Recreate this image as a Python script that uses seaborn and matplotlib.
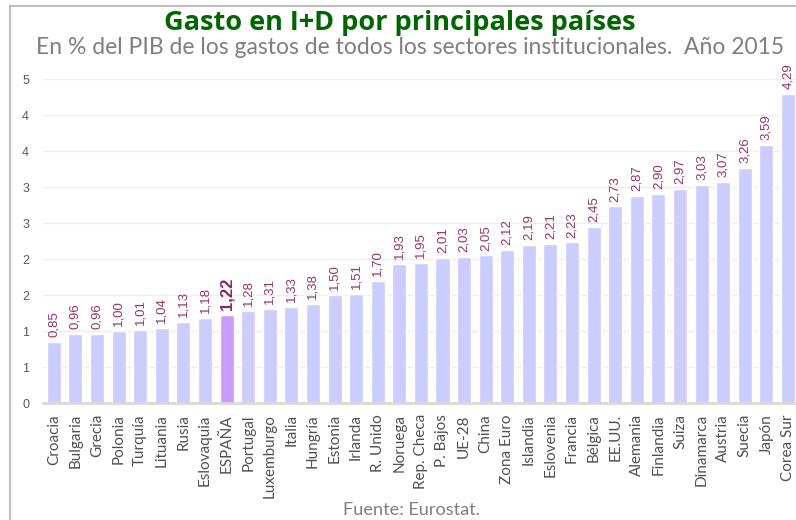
import matplotlib
matplotlib.use("Agg")
import matplotlib.pyplot as plt
import matplotlib.patches as mpatches
from matplotlib.ticker import FuncFormatter
import numpy as np
import pandas as pd
import seaborn as sns

paises = ["Croacia", "Bulgaria", "Grecia", "Polonia", "Turquía", "Lituania", "Rusia",
          "Eslovaquia", "ESPAÑA", "Portugal", "Luxemburgo", "Italia", "Hungría", "Estonia",
          "Irlanda", "R. Unido", "Noruega", "Rep. Checa", "P. Bajos", "UE-28", "China",
          "Zona Euro", "Islandia", "Eslovenia", "Francia", "Bélgica", "EE.UU.", "Alemania",
          "Finlandia", "Suiza", "Dinamarca", "Austria", "Suecia", "Japón", "Corea Sur"]
gasto = [0.85, 0.96, 0.96, 1.00, 1.01, 1.04, 1.13, 1.18, 1.22, 1.28, 1.31, 1.33, 1.38,
         1.50, 1.51, 1.70, 1.93, 1.95, 2.01, 2.03, 2.05, 2.12, 2.19, 2.21, 2.23, 2.45,
         2.73, 2.87, 2.90, 2.97, 3.03, 3.07, 3.26, 3.59, 4.29]
destacado = "ESPAÑA"

titulo = "Gasto en I+D por principales países"
subtitulo = "En % del PIB de los gastos de todos los sectores institucionales.  Año 2015"
fuente = "Fuente: Eurostat."

df = pd.DataFrame({"pais": paises, "gasto": gasto})

sns.set_theme(style="white")
plt.rcParams["font.family"] = ["Liberation Sans", "DejaVu Sans"]

fig = plt.figure(figsize=(7.96, 5.2), dpi=100)
W, H = 796, 520

# figure frame
fig.patches.append(mpatches.Rectangle((9.5 / W, -0.05), 1.2, (520 - 5.5) / H + 0.05,
                                      transform=fig.transFigure, fill=False,
                                      edgecolor="#bfbfbf", linewidth=1.5, zorder=0))

ax = fig.add_axes([43 / W, (H - 403) / H, (796 - 43) / W, (403 - 79) / H])

col_normal = "#ccccff"
col_dest = "#cc99ff"
palette = {p: (col_dest if p == destacado else col_normal) for p in paises}
sns.barplot(data=df, x="pais", y="gasto", hue="pais", palette=palette, legend=False,
            width=0.65, saturation=1, ax=ax, zorder=2)

ax.set_xlim(-0.5, 34.37)
ax.set_ylim(0, 4.5)
ax.set_yticks(np.arange(0, 4.51, 0.5))
ax.yaxis.set_major_formatter(FuncFormatter(lambda v, p: str(int(np.floor(v + 0.5 + 1e-9)))))
ax.grid(axis="y", color="#efefe8", linewidth=1.0, zorder=0)
ax.set_axisbelow(True)
for s in ["top", "right", "left"]:
    ax.spines[s].set_visible(False)
ax.spines["bottom"].set_color("#d9d9d9")
ax.spines["bottom"].set_linewidth(2)
ax.set_xlabel("")
ax.set_ylabel("")
ax.tick_params(axis="y", length=0, pad=10, labelsize=9, labelcolor="#595959")
ax.tick_params(axis="x", length=0, pad=8)
ax.set_xticks(range(len(paises)))
ax.set_xticklabels(paises, rotation=90, fontsize=11, color="#505050",
                   family=["Lato", "DejaVu Sans"], va="top", ha="center")

for i, (p, v) in enumerate(zip(paises, gasto)):
    txt = f"{v:.2f}".replace(".", ",")
    if p == destacado:
        ax.annotate(txt, (i, v), xytext=(0, 3.5), textcoords="offset points",
                    rotation=90, ha="center", va="bottom", fontsize=12,
                    fontweight="bold", color="#8a2a5c", annotation_clip=False)
    else:
        ax.annotate(txt, (i, v), xytext=(0, 3.5), textcoords="offset points",
                    rotation=90, ha="center", va="bottom", fontsize=9.5,
                    color="#993366", annotation_clip=False)

t1 = fig.text(400 / W, 1 - 23 / H, titulo, ha="center", va="center", fontsize=16,
              fontweight="bold", color="#006600", family=["Open Sans", "DejaVu Sans"])
t2 = fig.text(410 / W, 1 - 47 / H, subtitulo, ha="center", va="center", fontsize=14,
              color="#7f7f7f", family=["Lato", "DejaVu Sans"])
t3 = fig.text(411 / W, 1 - 510 / H, fuente, ha="center", va="center", fontsize=12,
              color="#7f7f7f", family=["Lato", "DejaVu Sans"])

# fit text widths to the reference layout
renderer = fig.canvas.get_renderer()
for t, target in [(t1, 473), (t2, 750), (t3, 137)]:
    w = t.get_window_extent(renderer).width
    t.set_fontsize(t.get_fontsize() * target / w)

fig.savefig("out.png", dpi=100)
